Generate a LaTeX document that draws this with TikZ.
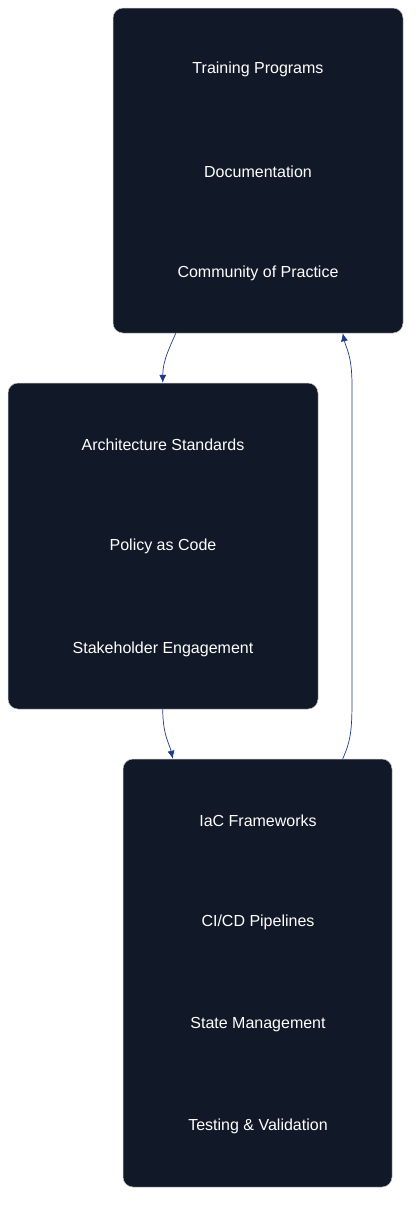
\documentclass[tikz,border=0pt]{standalone}
\usepackage{fontspec}
\setmainfont{Liberation Sans}
\usetikzlibrary{arrows.meta}

\definecolor{boxfill}{HTML}{111827}
\definecolor{linkblue}{HTML}{1E3A8A}

\tikzstyle{group} = [rectangle, rounded corners=10pt, fill=boxfill, draw=gray!45, line width=0.5pt]
\tikzstyle{item} = [text centered, text=white, font=\fontsize{16}{19}\selectfont]
\tikzstyle{link} = [draw=linkblue, line width=0.7pt, -{Latex[length=8pt,width=7pt]}]

\begin{document}
\begin{tikzpicture}[x=1pt, y=-1pt]
      \useasboundingbox (0,0) rectangle (419,1216);

      % groups
      \node[group, minimum width=290pt, minimum height=325pt] (culture) at (258,170.5) {};
      \node[group, minimum width=310pt, minimum height=326pt] (governance) at (163,546) {};
      \node[group, minimum width=269pt, minimum height=428pt] (foundation) at (257.5,973) {};

      % items
      \node[item] (training) at (258,69.5) {Training Programs};
      \node[item] (docs) at (258,171.5) {Documentation};
      \node[item] (community) at (258,273.5) {Community of Practice};

      \node[item] (standards) at (163,444.5) {Architecture Standards};
      \node[item] (policy) at (163,546.5) {Policy as Code};
      \node[item] (stakeholder) at (163,649.5) {Stakeholder Engagement};

      \node[item] (iac) at (258,820.5) {IaC Frameworks};
      \node[item] (cicd) at (258,922.5) {CI/CD Pipelines};
      \node[item] (state) at (258,1024.5) {State Management};
      \node[item] (testing) at (258,1126.5) {Testing \& Validation};

      % links
      \draw[link] ([xshift=63pt]culture.south west)
        .. controls +(-6,14) and +(0,-22) .. ([xshift=155pt]governance.north west);
      \draw[link] ([xshift=155pt]governance.south west)
        .. controls +(0,26) and +(-3,-14) .. ([xshift=50pt]foundation.north west);
      \draw[link] ([xshift=220pt]foundation.north west)
        .. controls +(8,-18) and +(0,30) .. (352,700) -- (352,385)
        .. controls +(0,-30) and +(3,14) .. ([xshift=230pt]culture.south west);
\end{tikzpicture}
\end{document}
